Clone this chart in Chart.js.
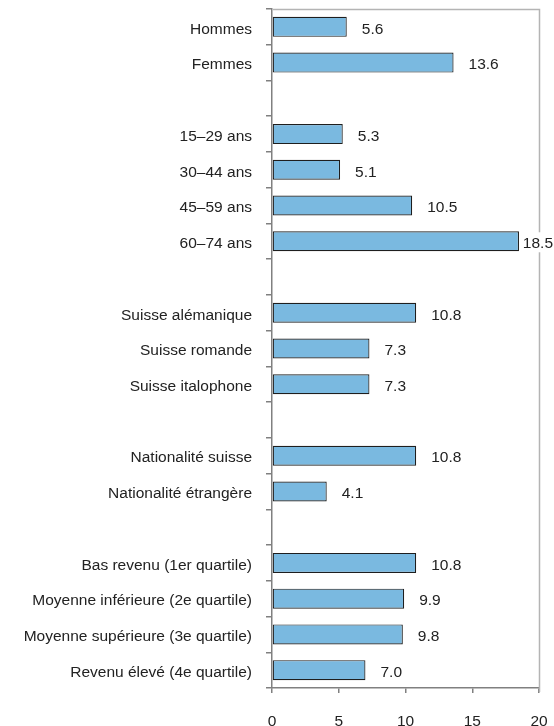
<!DOCTYPE html>
<html>
<head>
<meta charset="utf-8">
<script src="https://cdn.jsdelivr.net/npm/chart.js@4/dist/chart.umd.min.js"></script>
<style>
  html, body { margin: 0; padding: 0; background: #fff; }
  #wrap { width: 554px; height: 726px; position: relative; }
</style>
</head>
<body>
<div id="wrap"><canvas id="chart"></canvas></div>
<script>
// empty strings / nulls are spacer rows between the groups
const categories = [
  'Hommes', 'Femmes', '',
  '15–29 ans', '30–44 ans', '45–59 ans', '60–74 ans', '',
  'Suisse alémanique', 'Suisse romande', 'Suisse italophone', '',
  'Nationalité suisse', 'Nationalité étrangère', '',
  'Bas revenu (1er quartile)', 'Moyenne inférieure (2e quartile)',
  'Moyenne supérieure (3e quartile)', 'Revenu élevé (4e quartile)'
];
const values = [
  5.6, 13.6, null,
  5.3, 5.1, 10.5, 18.5, null,
  10.8, 7.3, 7.3, null,
  10.8, 4.1, null,
  10.8, 9.9, 9.8, 7.0
];
const xTicks = [0, 5, 10, 15, 20];

const FONT = '"Liberation Sans", Arial, sans-serif';
const FONT_SIZE = 15.5;
Chart.defaults.font.family = FONT;
Chart.defaults.font.size = FONT_SIZE;
Chart.defaults.color = '#222';

// light frame on the top and right of the plot area (value labels paint over it)
const frame = {
  id: 'frame',
  beforeDatasetsDraw(chart) {
    const { ctx, chartArea: a } = chart;
    const r = Math.round(a.right) + 0.5;
    const t = Math.round(a.top) + 0.5;
    ctx.save();
    ctx.strokeStyle = '#b4b4b4';
    ctx.lineWidth = 1.5;
    ctx.beginPath();
    ctx.moveTo(a.left + 1, t);
    ctx.lineTo(r, t);
    ctx.lineTo(r, a.bottom + 4);
    ctx.stroke();
    ctx.restore();
  }
};

// value labels right of each bar, on a white box
const valueLabels = {
  id: 'valueLabels',
  afterDatasetsDraw(chart) {
    const { ctx } = chart;
    const meta = chart.getDatasetMeta(0);
    ctx.save();
    ctx.font = FONT_SIZE + 'px ' + FONT;
    ctx.textBaseline = 'middle';
    meta.data.forEach((bar, i) => {
      const v = values[i];
      if (v == null) return;
      const text = v.toFixed(1);
      const w = ctx.measureText(text).width;
      let x = bar.x + 15;
      if (x + w > chart.width - 1) x = chart.width - 1 - w;
      ctx.fillStyle = '#fff';
      ctx.fillRect(x - 3, bar.y - 9, w + 6, 20);
      ctx.fillStyle = '#222';
      ctx.fillText(text, x, bar.y + 2.5);
    });
    ctx.restore();
  }
};

// keep the plot area where the layout padding puts it
function noOverflow(scale) {
  scale.paddingTop = 0;
  scale.paddingBottom = 0;
  scale.paddingLeft = 0;
  scale.paddingRight = 0;
}

new Chart(document.getElementById('chart'), {
  type: 'bar',
  data: {
    labels: categories,
    datasets: [{
      data: values,
      backgroundColor: '#7ab9e0',
      borderColor: '#1e1e1e',
      borderWidth: 1.2,
      borderSkipped: false,
      categoryPercentage: 1,
      barPercentage: 0.56
    }]
  },
  options: {
    indexAxis: 'y',
    responsive: true,
    maintainAspectRatio: false,
    animation: false,
    layout: { padding: { top: 9, right: 15, left: 0, bottom: 0 } },
    plugins: { legend: { display: false }, tooltip: { enabled: false } },
    scales: {
      x: {
        min: 0,
        max: 20,
        afterBuildTicks: scale => { scale.ticks = xTicks.map(v => ({ value: v })); },
        afterFit: scale => { scale.height = 38; noOverflow(scale); },
        ticks: { padding: 19, color: '#222' },
        grid: { drawOnChartArea: false, drawTicks: true, tickLength: 5, color: '#808080', lineWidth: 1.5 },
        border: { color: '#808080', width: 1.5 }
      },
      y: {
        afterFit: scale => { scale.width = 272; noOverflow(scale); },
        ticks: { padding: 14, color: '#222', autoSkip: false, labelOffset: 2.5 },
        grid: { drawOnChartArea: false, drawTicks: true, tickLength: 6, color: '#808080', offset: true, lineWidth: 1.5 },
        border: { color: '#808080', width: 1.5 }
      }
    }
  },
  plugins: [frame, valueLabels]
});
</script>
</body>
</html>
